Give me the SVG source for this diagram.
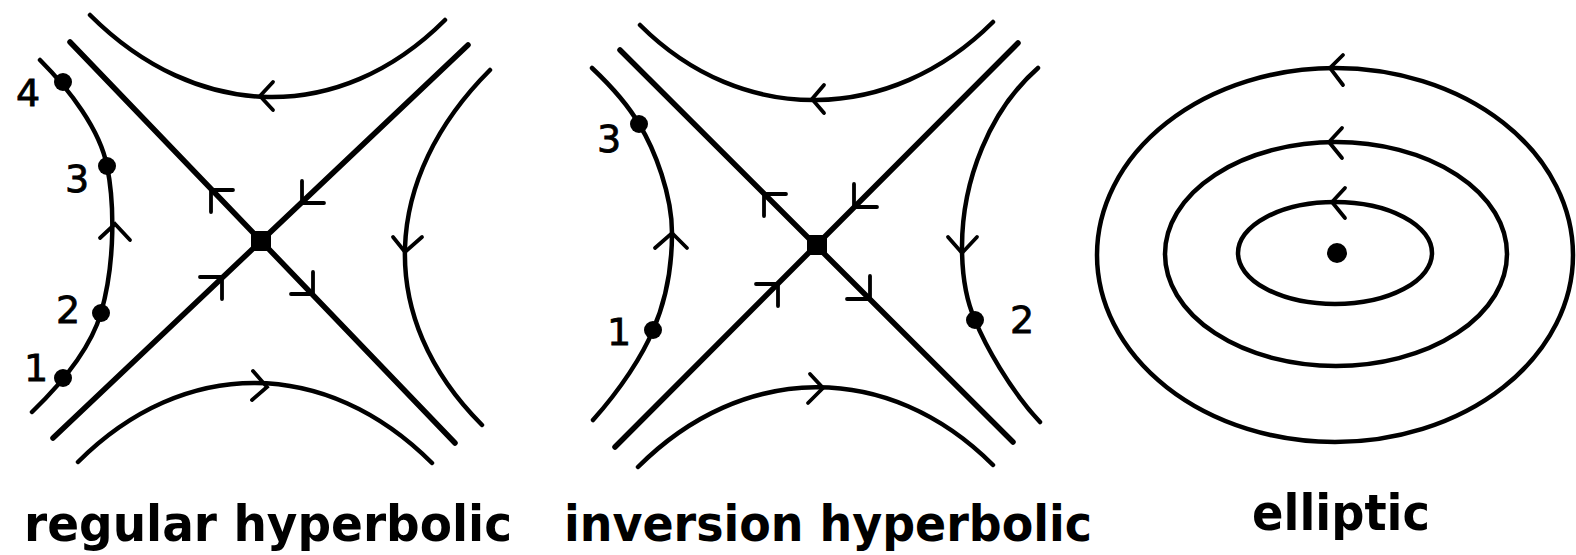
<svg xmlns="http://www.w3.org/2000/svg" width="1576" height="555" viewBox="0 0 1576 555">
<style>
.ln{fill:none;stroke:#000;stroke-width:5.5;stroke-linecap:round}
.cv{fill:none;stroke:#000;stroke-width:4.5;stroke-linecap:round}
.ar{fill:none;stroke:#000;stroke-width:3.8;stroke-linecap:round;stroke-linejoin:miter}
.dot{fill:#000}
.num{font-family:"DejaVu Sans","Liberation Sans",sans-serif;font-size:38px;fill:#000;text-anchor:middle;stroke:#000;stroke-width:0.8}
.lbl{font-family:"DejaVu Sans","Liberation Sans",sans-serif;font-size:50px;font-weight:bold;fill:#000}
</style>
<rect width="1576" height="555" fill="#fff"/>

<g id="regular-hyperbolic">
  <g id="p1-connectors">
    <path class="ln" d="M70,42 L455,443"/>
    <path class="ln" d="M53,438 L468,45"/>
    <path class="cv" d="M90,15 C196,121 339,126 445,20"/>
    <path class="cv" d="M78,462 C184,356 326,357 432,463"/>
    <path class="cv" d="M490,70 C382,178 374,317 482,425"/>
    <path class="cv" d="M40,60 C70,90 100,130 107,166 C114,200 116,260 101,313 C90,350 60,385 32,412"/>
    <path class="ar" d="M233,190 L211,190 L211,212"/>
    <path class="ar" d="M302,181 L302,203 L324,203"/>
    <path class="ar" d="M200,277 L222,277 L222,299"/>
    <path class="ar" d="M313,272 L313,294 L291,294"/>
    <path class="ar" d="M273,82 L260,96 L273,110"/>
    <path class="ar" d="M393,237 L405,252 L422,237"/>
    <path class="ar" d="M253,371 L267,387 L252,400"/>
    <path class="ar" d="M100,238 L115,224 L130,240"/>
  </g>
  <rect id="p1-saddle" x="251" y="231" width="20" height="20" class="dot"/>
  <g id="p1-point4"><circle cx="63" cy="82" r="9" class="dot"/><text class="num" x="28" y="106">4</text></g>
  <g id="p1-point3"><circle cx="107" cy="166" r="9" class="dot"/><text class="num" x="77" y="192">3</text></g>
  <g id="p1-point2"><circle cx="101" cy="313" r="9" class="dot"/><text class="num" x="68" y="323">2</text></g>
  <g id="p1-point1"><circle cx="63" cy="378" r="9" class="dot"/><text class="num" x="36" y="381">1</text></g>
  <text class="lbl" x="24" y="541" textLength="488" lengthAdjust="spacingAndGlyphs">regular hyperbolic</text>
</g>

<g id="inversion-hyperbolic">
  <g id="p2-connectors">
    <path class="ln" d="M620,50 L1013,442"/>
    <path class="ln" d="M615,447 L1018,43"/>
    <path class="cv" d="M640,25 C742,127 891,124 993,22"/>
    <path class="cv" d="M638,467 C743,362 888,360 993,465"/>
    <path class="cv" d="M592,68 C610,85 628,105 639,124 C655,150 672,195 672,233 C672,275 664,305 653,330 C643,355 620,390 593,420"/>
    <path class="cv" d="M1038,68 C990,110 962,180 962,247 C962,280 967,302 975,320 C985,345 1010,390 1040,422"/>
    <path class="ar" d="M786,194 L764,194 L764,216"/>
    <path class="ar" d="M854,184 L854,207 L877,207"/>
    <path class="ar" d="M756,284 L778,284 L778,306"/>
    <path class="ar" d="M870,276 L870,299 L847,299"/>
    <path class="ar" d="M824,85 L812,99 L824,113"/>
    <path class="ar" d="M948,237 L962,253 L977,237"/>
    <path class="ar" d="M810,374 L823,388 L808,403"/>
    <path class="ar" d="M655,248 L672,233 L687,248"/>
  </g>
  <rect id="p2-saddle" x="807" y="235" width="20" height="20" class="dot"/>
  <g id="p2-point3"><circle cx="639" cy="124" r="9" class="dot"/><text class="num" x="609" y="152">3</text></g>
  <g id="p2-point1"><circle cx="653" cy="330" r="9" class="dot"/><text class="num" x="619" y="345">1</text></g>
  <g id="p2-point2"><circle cx="975" cy="320" r="9" class="dot"/><text class="num" x="1022" y="333">2</text></g>
  <text class="lbl" x="564" y="541" textLength="528" lengthAdjust="spacingAndGlyphs">inversion hyperbolic</text>
</g>

<g id="elliptic">
  <g id="p3-connectors">
    <ellipse class="cv" cx="1335" cy="255" rx="238" ry="187"/>
    <ellipse class="cv" cx="1336" cy="254" rx="171" ry="112"/>
    <ellipse class="cv" cx="1335" cy="253" rx="97" ry="51"/>
    <path class="ar" d="M1343,55 L1330,68 L1343,85"/>
    <path class="ar" d="M1342,128 L1329,142 L1342,158"/>
    <path class="ar" d="M1345,188 L1332,202 L1345,218"/>
  </g>
  <circle id="p3-center" cx="1337" cy="253" r="10" class="dot"/>
  <text class="lbl" x="1252" y="530" textLength="178" lengthAdjust="spacingAndGlyphs">elliptic</text>
</g>
</svg>
